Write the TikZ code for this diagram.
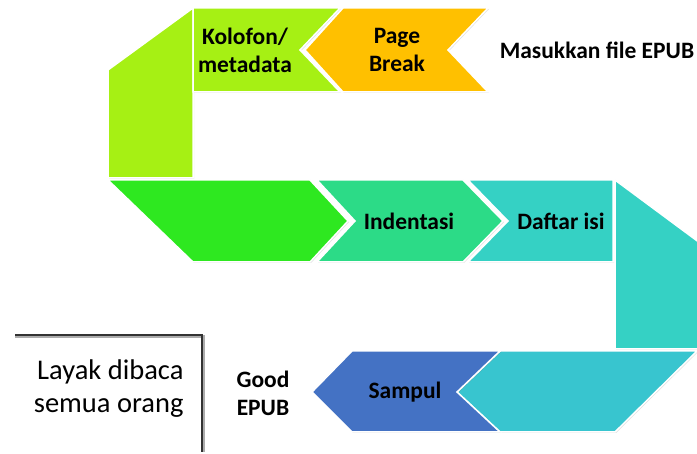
\documentclass[tikz,border=0pt]{standalone}
\usepackage{fontspec}
\setmainfont{Carlito}
\usetikzlibrary{shadows}
\definecolor{lima}{HTML}{A6F014}
\definecolor{hijau}{HTML}{2EE820}
\definecolor{hijaumuda}{HTML}{2CDB87}
\definecolor{toska}{HTML}{35D1C4}
\definecolor{toskabawah}{HTML}{38C5CF}
\definecolor{biru}{HTML}{4472C4}
\definecolor{oranye}{HTML}{FFC000}

\begin{document}
\begin{tikzpicture}[x=1pt,y=-1pt,
  peca/.style={draw=white,line width=1.5pt,drop shadow={shadow xshift=1pt,shadow yshift=-1pt,opacity=0.25}},
  rotulo/.style={font=\fontsize{23.5}{28}\selectfont\bfseries,align=center}]
\useasboundingbox (0,0) rectangle (697,454);
% baris atas
\path[peca,fill=lima] (108,70) -- (193,8) -- (193,178) -- (108,178) -- cycle;
\path[peca,fill=lima] (193,8) -- (340,8) -- (300,50) -- (340,92) -- (193,92) -- cycle;
\path[peca,fill=oranye] (343,8) -- (488,8) -- (448,50) -- (488,92) -- (343,92) -- (305,50) -- cycle;
% baris tengah
\path[peca,fill=hijau] (108,180) -- (310,180) -- (348,221) -- (310,262) -- (193,262) -- cycle;
\path[peca,fill=hijaumuda] (317,180) -- (463,180) -- (503,221) -- (463,262) -- (317,262) -- (355,221) -- cycle;
\path[peca,fill=toska] (468,180) -- (613,180) -- (613,262) -- (468,262) -- (508,221) -- cycle;
\path[peca,fill=toska] (615,180) -- (700,243) -- (700,349) -- (615,349) -- cycle;
% baris bawah
\path[peca,fill=toskabawah] (500,351) -- (697,351) -- (615,432) -- (500,432) -- (457,392) -- cycle;
\path[peca,fill=biru] (352,351) -- (500,351) -- (457,392) -- (500,432) -- (352,432) -- (312,392) -- cycle;
% kotak kesimpulan
\draw[line width=3.5pt,gray!65] (15,336.5) -- (203.5,336.5) -- (203.5,452);
\draw[line width=1.5pt,black!80] (15,335) -- (202,335) -- (202,452);

\node[rotulo] (K) at (245,50) {Kolofon/\\metadata};
\node[rotulo] (P) at (397,50) {Page\\Break};
\node[rotulo] (M) at (597,50) {Masukkan file EPUB};
\node[rotulo] (I) at (409,221) {Indentasi};
\node[rotulo] (D) at (561,221) {Daftar isi};
\node[rotulo] (S) at (405,392) {Sampul};
\node[rotulo] (G) at (263,393) {Good\\EPUB};
\node[font=\fontsize{28.5}{33}\selectfont,align=right,anchor=east] (L) at (187,389) {Layak dibaca\\semua orang};
\end{tikzpicture}
\end{document}
